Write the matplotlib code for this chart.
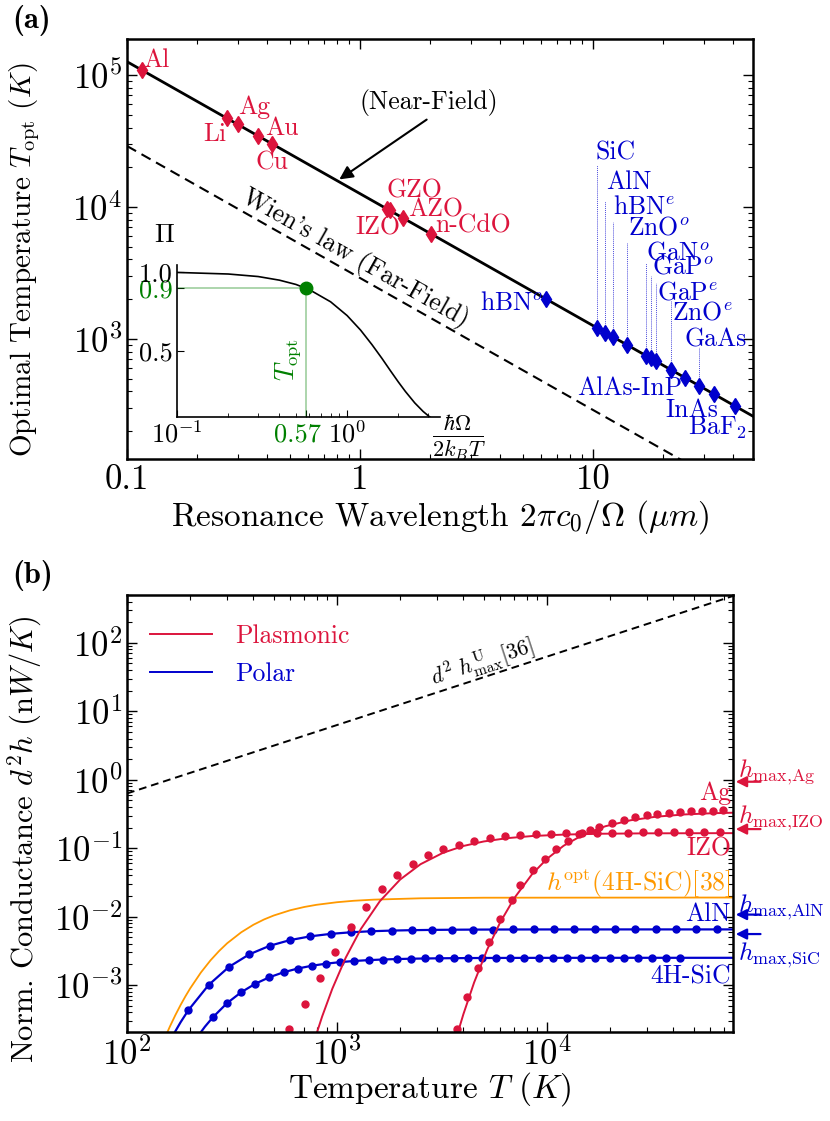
import numpy as np
import matplotlib.pyplot as plt
from matplotlib.ticker import FuncFormatter, NullFormatter, LogLocator

# шрифты в стиле LaTeX (Computer Modern входит в matplotlib)
plt.rcParams['font.family'] = ['cmr10', 'DejaVu Serif']
plt.rcParams['mathtext.fontset'] = 'cm'
plt.rcParams['axes.formatter.use_mathtext'] = True

RED = '#DC143C'
BLUE = '#0000CD'
ORANGE = '#FF9900'
GREEN = 'green'

# ---------------- данные панели (a) ----------------
lam_line = [0.1, 48.6]
T_near = [126200, 259.7]
T_wien = [28980, 59.6]

plas_names = ['Al', 'Li', 'Ag', 'Au', 'Cu', 'IZO', 'GZO', 'AZO', 'n-CdO']
plas_lam = [0.116, 0.268, 0.299, 0.365, 0.419, 1.30, 1.34, 1.53, 2.02]
plas_T = [108800, 47090, 42210, 34580, 30120, 9708, 9419, 8249, 6248]

polar_names = [r'hBN$^{o}$', 'SiC', 'AlN', r'hBN$^{e}$', r'ZnO$^{o}$', r'GaN$^{o}$',
               r'GaP$^{o}$', r'GaP$^{e}$', r'ZnO$^{e}$', 'AlAs-InP', 'GaAs', 'InAs', r'BaF$_2$']
polar_lam = [6.29, 10.4, 11.3, 12.2, 14.0, 16.9, 17.7, 18.6, 21.6, 24.8, 28.5, 33.0, 40.7]
polar_T = [2007, 1214, 1117, 1035, 901.5, 746.8, 713.1, 678.5, 584.3, 508.9, 442.8, 382.5, 310.1]

# вставка: Pi(x), x = hbar*Omega / 2kT
pi_x = [0.1, 0.2, 0.3, 0.4, 0.5, 0.6, 0.8, 1.0, 1.2, 1.4, 1.6, 1.8, 2.0, 2.2, 2.5, 2.8, 3.0, 3.1]
pi_val = [0.997, 0.987, 0.971, 0.948, 0.921, 0.888, 0.811, 0.724, 0.632, 0.540, 0.454,
          0.374, 0.304, 0.244, 0.171, 0.117, 0.090, 0.078]
x_opt, pi_opt = 0.57, 0.898

# ---------------- данные панели (b) ----------------
T_hU = [100, 76900]
h_hU = [0.63, 484]

T_orange = [150, 160, 170, 180, 190, 200, 225, 250, 275, 300, 350, 400, 450, 500, 600, 700,
            800, 1000, 1200, 1500, 2500, 5000, 76900]
h_orange = [1.575e-4, 2.47e-4, 3.64e-4, 5.11e-4, 6.88e-4, 8.94e-4, 1.528e-3, 2.30e-3,
            3.16e-3, 4.08e-3, 5.90e-3, 7.60e-3, 9.10e-3, 0.01038, 0.01240, 0.01384,
            0.01488, 0.01622, 0.01703, 0.01770, 0.01851, 0.01888, 0.0190]

T_aln = [196, 245, 306, 382, 478, 597, 746, 933, 1164, 1455, 1820, 2275, 2838, 3548, 4436,
         5546, 6918, 8650, 10810, 13520, 16900, 21090, 26360, 32960, 41210, 51520, 64270]
h_aln = [4.29e-4, 1.005e-3, 1.842e-3, 2.805e-3, 3.744e-3, 4.533e-3, 5.147e-3, 5.592e-3,
         5.897e-3, 6.111e-3, 6.246e-3, 6.335e-3, 6.393e-3, 6.431e-3, 6.456e-3, 6.472e-3,
         6.482e-3, 6.489e-3, 6.493e-3, 6.496e-3, 6.497e-3, 6.498e-3, 6.499e-3, 6.5e-3,
         6.5e-3, 6.5e-3, 6.5e-3]
T_aln_low = [165, 169, 180]
h_aln_low = [1.80e-4, 2.05e-4, 2.86e-4]

T_sic = [256, 299, 349, 408, 476, 557, 650, 760, 887, 1036, 1211, 1414, 1652, 1930, 2254,
         2634, 3076, 3594, 4198, 4903, 5728, 6691, 7816, 9131, 10670, 12460, 14550, 17000,
         19860, 23200, 27100, 31660, 36980, 43200]
h_sic = [3.36e-4, 5.41e-4, 7.81e-4, 1.043e-3, 1.298e-3, 1.537e-3, 1.742e-3, 1.915e-3,
         2.052e-3, 2.162e-3, 2.248e-3, 2.312e-3, 2.360e-3, 2.397e-3, 2.424e-3, 2.444e-3,
         2.459e-3, 2.470e-3, 2.478e-3, 2.484e-3, 2.488e-3, 2.491e-3, 2.494e-3, 2.495e-3,
         2.496e-3, 2.497e-3, 2.498e-3, 2.498e-3, 2.499e-3, 2.499e-3, 2.5e-3, 2.5e-3,
         2.5e-3, 2.5e-3]
T_sic_low = [210, 220, 235]
h_sic_low = [1.45e-4, 1.87e-4, 2.46e-4]

T_izo_line = [780, 850, 950, 1100, 1300, 1600, 2000, 2500, 3200, 4000, 5000, 6500, 8500,
              12000, 18000, 30000, 76900]
h_izo_line = [1.545e-4, 3.47e-4, 8.81e-4, 2.50e-3, 6.60e-3, 0.01677, 0.03484, 0.05829,
              0.0856, 0.1077, 0.1253, 0.1403, 0.1504, 0.1579, 0.1624, 0.1647, 0.1658]
T_izo_dots = [591, 701, 830, 982, 1161, 1374, 1633, 1931, 2293, 2712, 3206, 3810, 4508,
              5355, 6310, 7464, 8831, 10450, 12360, 14620, 17300, 20460, 24210, 28640,
              33880, 40090, 47420, 56100, 66370]
h_izo_dots = [2.3e-4, 5.2e-4, 1.25e-3, 3.0e-3, 6.98e-3, 0.014, 0.0253, 0.0406, 0.0594,
              0.0782, 0.0957, 0.113, 0.128, 0.140, 0.150, 0.156, 0.160, 0.163, 0.165, 0.167,
              0.168, 0.169, 0.169, 0.170, 0.170, 0.170, 0.170, 0.170, 0.170]

T_ag_line = [3700, 4000, 4500, 5200, 6000, 7000, 8500, 10000, 12000, 15000, 19000, 25000,
             33000, 45000, 60000, 76900]
h_ag_line = [1.69e-4, 3.75e-4, 1.091e-3, 3.33e-3, 8.33e-3, 0.01874, 0.04177, 0.0698,
             0.1084, 0.1593, 0.2093, 0.2555, 0.2880, 0.3108, 0.3232, 0.3297]
T_ag_dots = [3715, 4150, 4680, 5297, 5975, 6787, 7430, 8610, 9772, 11040, 12550, 14270,
             16030, 17760, 20330, 23270, 26240, 29850, 33290, 38110, 42970, 48500, 54930,
             61970, 69160]
h_ag_dots = [2.3e-4, 6.6e-4, 1.79e-3, 4.30e-3, 9.25e-3, 0.0177, 0.029, 0.0478, 0.069,
             0.0957, 0.1265, 0.160, 0.183, 0.205, 0.235, 0.262, 0.285, 0.305, 0.318, 0.330,
             0.338, 0.344, 0.349, 0.354, 0.356]

# максимальные значения (стрелки справа)
hmax_names = [r'$h_{\rm max{,}Ag}$', r'$h_{\rm max{,}IZO}$', r'$h_{\rm max{,}AlN}$',
              r'$h_{\rm max{,}SiC}$']
hmax_vals = [0.935, 0.19, 0.0107, 0.00556]

# ---------------- положения подписей ----------------
plas_label_pos = [(0.1332, 130000), (0.2386, 35700), (0.351, 57300), (0.4628, 39600),
                  (0.4191, 21550), (1.194, 6930), (1.714, 13200), (2.118, 9480), (3.055, 7180)]
# (lam, T, ha, верх тонкой линии или None)
polar_label_pos = [(6.10, 1874, 'right', None), (10.3, 25650, 'left', 20800),
                   (11.4, 15460, 'left', 11100), (12.2, 10000, 'left', 7690),
                   (14.1, 6930, 'left', 5340), (16.9, 4490, 'left', 3770),
                   (17.9, 3510, 'left', 3000), (18.8, 2230, 'left', 2660),
                   (21.8, 1574, 'left', 1970), (14.4, 425, 'center', None),
                   (24.8, 983, 'left', 869), (26.6, 290, 'center', None),
                   (34.4, 212, 'center', None)]
hmax_text_y = [1.31, 0.274, 0.0140, 0.00274]
hmax_colors = [RED, RED, BLUE, BLUE]


def style_axes(ax, labelsize=25):
    ax.tick_params(which='both', direction='in', top=True, right=True, labelsize=labelsize)
    ax.tick_params(which='major', length=7, width=1.0)
    ax.tick_params(which='minor', length=3.5, width=0.8)
    for s in ax.spines.values():
        s.set_linewidth(1.8)


fig = plt.figure(figsize=(8.3, 11.21), dpi=100)
ax1 = fig.add_axes([0.1530, 0.5905, 0.7542, 0.3747])
ax2 = fig.add_axes([0.1530, 0.0794, 0.7301, 0.3898])

# ================= панель (a) =================
ax1.plot(lam_line, T_near, color='k', lw=2)
ax1.plot(lam_line, T_wien, color='k', lw=1.5, ls=(0, (5, 3)))
ax1.plot(plas_lam, plas_T, ls='none', marker='d', ms=8, color=RED)
ax1.plot(polar_lam, polar_T, ls='none', marker='d', ms=8, color=BLUE)
ax1.set_xscale('log')
ax1.set_yscale('log')
ax1.set_xlim(0.1, 48.6)
ax1.set_ylim(123, 1.874e5)
style_axes(ax1)
ax1.xaxis.set_major_formatter(FuncFormatter(lambda v, p: '%g' % v))
ax1.xaxis.set_minor_formatter(NullFormatter())
ax1.set_xlabel(r'Resonance Wavelength $2\pi c_0/\Omega$ $(\mu m)$', fontsize=24, labelpad=2)
ax1.set_ylabel(r'Optimal Temperature $T_{\rm opt}$ $(K)$', fontsize=21)
ax1.yaxis.set_label_coords(-0.135, 0.474)

for name, (lx, ly) in zip(plas_names, plas_label_pos):
    ax1.text(lx, ly, name, color=RED, fontsize=18.5, ha='center', va='center')

for name, lam, T, (lx, ly, ha, top) in zip(polar_names, polar_lam, polar_T, polar_label_pos):
    ax1.text(lx, ly, name, color=BLUE, fontsize=18.5, ha=ha, va='center')
    if top is not None:
        ax1.plot([lam, lam], [T, top], color=BLUE, lw=0.7, alpha=0.7, ls=(0, (1, 1)))

ax1.annotate('', xy=(0.797, 15740), xytext=(1.977, 47200),
             arrowprops=dict(arrowstyle='-|>', color='k', lw=1.5, mutation_scale=20))
ax1.text(1.977, 62400, '(Near-Field)', fontsize=18.5, ha='center', va='center')
ax1.text(0.952, 4110, "Wien's law (Far-Field)", fontsize=18.5, rotation=-29.5,
         rotation_mode='anchor', ha='center', va='center')

# вставка
axin = fig.add_axes([0.2133, 0.6280, 0.3169, 0.1356])
axin.set_facecolor('none')
axin.plot(pi_x, pi_val, color='k', lw=1.2)
axin.plot([0.1, x_opt], [pi_opt, pi_opt], color=GREEN, alpha=0.35, lw=1.3)
axin.plot([x_opt, x_opt], [0, pi_opt], color=GREEN, alpha=0.35, lw=1.3)
axin.plot([x_opt], [pi_opt], marker='o', ms=9, color=GREEN)
axin.set_xscale('log')
axin.set_xlim(0.1, 3.52)
axin.set_ylim(0.082, 1.044)
for s in ['top', 'right']:
    axin.spines[s].set_visible(False)
for s in ['left', 'bottom']:
    axin.spines[s].set_linewidth(1.2)
axin.tick_params(which='both', direction='in', labelsize=19, pad=3)
axin.tick_params(which='major', length=5)
axin.tick_params(which='minor', length=3)
axin.set_xticks([0.1, x_opt, 1.0])
axin.set_xticklabels([r'$10^{-1}$', '', r'$10^{0}$'])
axin.xaxis.set_minor_formatter(NullFormatter())
axin.annotate('0.57', xy=(x_opt, 0), xycoords=('data', 'axes fraction'), xytext=(-6, -4.5),
              textcoords='offset points', ha='center', va='top', fontsize=19, color=GREEN)
axin.set_yticks([0.5, 0.9, 1.0])
axin.set_yticklabels(['0.5', '0.9', '1.0'])
axin.get_yticklabels()[1].set_color(GREEN)
axin.text(-0.046, 1.197, r'$\Pi$', transform=axin.transAxes, fontsize=19, ha='center', va='center')
axin.text(1.07, -0.14, r'$\frac{\hbar\Omega}{2k_BT}$', transform=axin.transAxes,
          fontsize=23, ha='center', va='center')
axin.text(0.450, 0.443, r'$T_{\rm opt}$', color=GREEN, fontsize=19, rotation=90,
          ha='center', va='center')

fig.text(0.015, 0.982, '(a)', family='cmb10', fontsize=22, ha='left', va='center')

# ================= панель (b) =================
ax2.plot(T_hU, h_hU, color='k', lw=1.4, ls=(0, (4, 2.5)))
ax2.plot(T_orange, h_orange, color=ORANGE, lw=1.3)
ax2.plot(T_aln_low + T_aln + [76900], h_aln_low + h_aln + [6.5e-3], color=BLUE, lw=1.6)
ax2.plot(T_aln, h_aln, ls='none', marker='o', ms=5, color=BLUE)
ax2.plot(T_sic_low + T_sic + [76900], h_sic_low + h_sic + [2.5e-3], color=BLUE, lw=1.6)
ax2.plot(T_sic, h_sic, ls='none', marker='o', ms=5, color=BLUE)
ax2.plot(T_izo_line, h_izo_line, color=RED, lw=1.4)
ax2.plot(T_izo_dots, h_izo_dots, ls='none', marker='o', ms=5, color=RED)
ax2.plot(T_ag_line, h_ag_line, color=RED, lw=1.4)
ax2.plot(T_ag_dots, h_ag_dots, ls='none', marker='o', ms=5, color=RED)
ax2.set_xscale('log')
ax2.set_yscale('log')
ax2.set_xlim(100, 76900)
ax2.set_ylim(2.06e-4, 500)
style_axes(ax2)
ax2.yaxis.set_major_locator(LogLocator(base=10, numticks=12))
ax2.yaxis.set_minor_locator(LogLocator(base=10, subs=np.arange(2, 10), numticks=12))
ax2.yaxis.set_minor_formatter(NullFormatter())
ax2.set_xlabel(r'Temperature $T$ $(K)$', fontsize=24, labelpad=-1)
ax2.set_ylabel(r'Norm. Conductance $d^2h$ $(\mathrm{n}W/K)$', fontsize=22)
ax2.yaxis.set_label_coords(-0.137, 0.44)

ax2.text(4900, 52.8, r'$d^2\ h^{\rm U}_{\rm max}[36]$', fontsize=16, rotation=18,
         rotation_mode='anchor', ha='center', va='center')
ax2.text(75200, 0.646, 'Ag', color=RED, fontsize=18.5, ha='right', va='center')
ax2.text(75200, 0.100, 'IZO', color=RED, fontsize=18.5, ha='right', va='center')
ax2.text(75200, 0.0308, r'$h^{\rm opt}$(4H-SiC)[38]', color=ORANGE, fontsize=18.5,
         ha='right', va='center')
ax2.text(75200, 0.0107, 'AlN', color=BLUE, fontsize=18.5, ha='right', va='center')
ax2.text(75200, 1.31e-3, '4H-SiC', color=BLUE, fontsize=18.5, ha='right', va='center')

ytr = ax2.get_yaxis_transform()
for name, val, ty, c in zip(hmax_names, hmax_vals, hmax_text_y, hmax_colors):
    ax2.annotate('', xy=(1.0, val), xycoords=ytr, xytext=(1.05, val), textcoords=ytr,
                 arrowprops=dict(arrowstyle='-|>', color=c, lw=1.6, mutation_scale=16),
                 annotation_clip=False)
    ax2.text(1.008, ty, name, transform=ytr, color=c, fontsize=18.5, ha='left', va='center',
             clip_on=False)

leg_plas, = ax2.plot([], [], color=RED, lw=1.4, label='Plasmonic')
leg_pol, = ax2.plot([], [], color=BLUE, lw=1.4, label='Polar')
ax2.legend(handles=[leg_plas, leg_pol], loc='upper left', bbox_to_anchor=(0.0, 0.985),
           frameon=False, fontsize=18.5, handlelength=2.4, handletextpad=0.9,
           labelspacing=0.55, labelcolor='linecolor')

fig.text(0.015, 0.487, '(b)', family='cmb10', fontsize=22, ha='left', va='center')

fig.savefig('out.png', dpi=100)
